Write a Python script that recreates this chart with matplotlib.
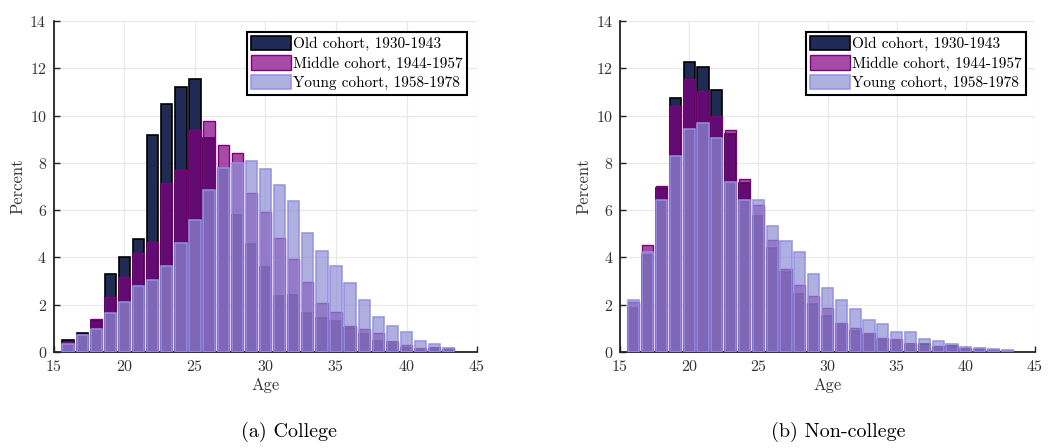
import numpy as np
import matplotlib
matplotlib.use("Agg")
import matplotlib.pyplot as plt

plt.rcParams['font.family'] = ['cmr10', 'DejaVu Serif']
plt.rcParams['mathtext.fontset'] = 'cm'
plt.rcParams['axes.formatter.use_mathtext'] = True

ages = np.arange(16, 44)

# College
col_old = [0.49, 0.80, 1.35, 3.32, 4.00, 4.77, 9.16, 10.51, 11.20, 11.53,
           9.07, 7.75, 5.80, 4.56, 3.60, 2.36, 2.40, 1.64, 1.45, 1.30,
           1.00, 0.75, 0.45, 0.43, 0.15, 0.11, 0.13, 0.10]
col_mid = [0.42, 0.75, 1.38, 2.34, 3.16, 4.20, 4.67, 7.15, 7.68, 9.40,
           9.78, 8.76, 8.40, 6.74, 5.93, 4.82, 3.95, 2.98, 2.07, 1.68,
           1.10, 0.97, 0.82, 0.43, 0.30, 0.15, 0.20, 0.15]
col_young = [0.35, 0.70, 0.99, 1.63, 2.10, 2.80, 3.06, 3.64, 4.61, 5.57,
             6.86, 7.80, 8.00, 8.09, 7.72, 7.08, 6.40, 5.05, 4.27, 3.65,
             2.90, 2.20, 1.46, 1.10, 0.85, 0.48, 0.32, 0.18]

# Non-college
nc_old = [1.85, 4.10, 6.95, 10.73, 12.26, 12.07, 11.08, 9.20, 7.15, 5.74,
          4.40, 3.39, 2.44, 2.02, 1.51, 1.17, 0.88, 0.71, 0.52, 0.52,
          0.32, 0.33, 0.20, 0.25, 0.12, 0.10, 0.07, 0.03]
nc_mid = [2.10, 4.52, 7.04, 10.41, 11.54, 11.04, 9.99, 9.38, 7.31, 6.21,
          4.73, 3.53, 2.85, 2.38, 1.88, 1.23, 1.02, 0.82, 0.61, 0.55,
          0.35, 0.22, 0.25, 0.20, 0.18, 0.15, 0.10, 0.05]
nc_young = [2.22, 4.25, 6.42, 8.27, 9.44, 9.67, 9.05, 7.21, 6.45, 6.45,
            5.33, 4.70, 4.25, 3.29, 2.72, 2.22, 1.81, 1.37, 1.20, 0.85,
            0.85, 0.57, 0.45, 0.35, 0.20, 0.18, 0.12, 0.08]

labels = ['Old cohort, 1930-1943', 'Middle cohort, 1944-1957', 'Young cohort, 1958-1978']
captions = ['(a) College', '(b) Non-college']

old_fc = (31/255, 42/255, 85/255)
mid_fc = (0.5, 0.0, 0.5, 0.7)
young_fc = (142/255, 142/255, 211/255, 0.7)
young_ec = (145/255, 145/255, 232/255)

fig = plt.figure(figsize=(10.5, 4.48), dpi=100)
ax1 = fig.add_axes([0.0514, 0.2143, 0.4029, 0.7388])
ax2 = fig.add_axes([0.5905, 0.2143, 0.3952, 0.7388])

panels = [(ax1, col_old, col_mid, col_young, 0.976),
          (ax2, nc_old, nc_mid, nc_young, 0.978)]

for ax, old, mid, young, lx in panels:
    w = 0.8
    ax.bar(ages, old, width=w, color=old_fc, edgecolor='black', linewidth=1.2,
           label=labels[0], zorder=3)
    ax.bar(ages, mid, width=w, color=mid_fc, edgecolor=(0.5, 0.0, 0.5), linewidth=1.0,
           label=labels[1], zorder=4)
    ax.bar(ages, young, width=w, color=young_fc, edgecolor=young_ec, linewidth=1.1,
           label=labels[2], zorder=5)

    ax.set_xlim(15, 45)
    ax.set_ylim(0, 14)
    ax.set_xticks(np.arange(15, 46, 5))
    ax.set_yticks(np.arange(0, 15, 2))
    ax.grid(True, color='#e8e8e8', linewidth=0.9, zorder=0)
    ax.set_axisbelow(True)
    ax.spines['top'].set_visible(False)
    ax.spines['right'].set_visible(False)
    for s in ('left', 'bottom'):
        ax.spines[s].set_linewidth(1.3)
        ax.spines[s].set_color('#222222')
    ax.tick_params(direction='in', length=4, width=1.0, labelsize=11.5,
                   colors='#222222', labelcolor='#333333')
    ax.tick_params(axis='x', pad=5)
    ax.tick_params(axis='y', pad=5)
    ax.set_xlabel('Age', fontsize=12, color='#333333', labelpad=3)
    ax.set_ylabel('Percent', fontsize=12, color='#333333', labelpad=3)

    leg = ax.legend(loc='upper right', bbox_to_anchor=(lx, 0.968), borderaxespad=0,
                    fontsize=11, fancybox=False, edgecolor='black', framealpha=1,
                    handlelength=2.6, handleheight=1.05, handletextpad=0.15,
                    labelspacing=0.28, borderpad=0.28)
    leg.get_frame().set_linewidth(1.5)
    leg.set_zorder(10)

fig.text(0.275, 0.036, captions[0], ha='center', va='center', fontsize=14.5)
fig.text(0.798, 0.036, captions[1], ha='center', va='center', fontsize=14.5)

fig.savefig('out.png', dpi=100)
